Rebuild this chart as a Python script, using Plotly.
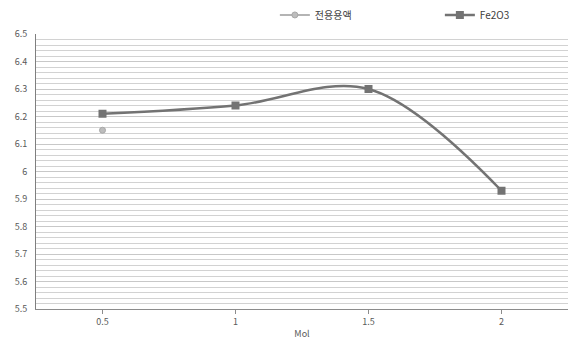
import plotly.graph_objects as go

# Categories on the x axis (Mol)
mol = ["0.5", "1", "1.5", "2"]

# Series values
fe2o3 = [6.21, 6.24, 6.30, 5.93]
solution = [6.15, None, None, None]

font_family = "Noto Sans CJK KR, Noto Sans, sans-serif"

fig = go.Figure()

fig.add_trace(go.Scatter(
    x=mol, y=solution, name="전용용액",
    mode="lines+markers",
    line=dict(color="#b4b4b4", width=2),
    marker=dict(symbol="circle", size=6, color="#bdbdbd",
                line=dict(color="#a8a8a8", width=1)),
))

fig.add_trace(go.Scatter(
    x=mol, y=fe2o3, name="Fe2O3",
    mode="lines+markers",
    line=dict(color="#737373", width=2.5, shape="spline", smoothing=1.0),
    marker=dict(symbol="square", size=8, color="#737373"),
))

fig.update_layout(
    width=568, height=340,
    margin=dict(l=36, r=0, t=34, b=31, autoexpand=False),
    paper_bgcolor="white",
    plot_bgcolor="white",
    font=dict(family=font_family, size=9, color="#595959"),
    showlegend=True,
    legend=dict(
        orientation="h",
        x=0.449, xanchor="left", xref="paper",
        y=0.956, yref="container", yanchor="middle",
        entrywidth=120, entrywidthmode="pixels",
        font=dict(size=10, color="#404040"),
        bgcolor="rgba(0,0,0,0)",
    ),
    xaxis=dict(
        type="category",
        range=[-0.5, 3.5],
        showgrid=False,
        showline=True, linecolor="#8c8c8c", linewidth=1,
        ticks="outside", ticklen=4, tickcolor="#8c8c8c",
        tickfont=dict(size=9, color="#595959"),
        title=dict(text="Mol", font=dict(size=9, color="#595959"), standoff=8),
        zeroline=False,
    ),
    yaxis=dict(
        range=[5.5, 6.5],
        dtick=0.1,
        tickformat="~g",
        showgrid=True, gridcolor="#c8c8c8", gridwidth=1,
        minor=dict(dtick=0.02, showgrid=True, gridcolor="#d2d2d2", gridwidth=1),
        showline=True, linecolor="#7f7f7f", linewidth=1,
        ticks="", ticklabelstandoff=6,
        tickfont=dict(size=9, color="#595959"),
        zeroline=False,
    ),
)

fig.write_html("out.html")
